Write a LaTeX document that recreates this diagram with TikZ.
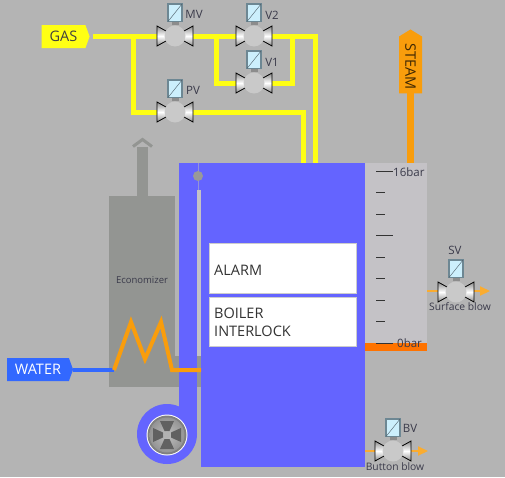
\documentclass[tikz,border=0pt]{standalone}
\usepackage{fontspec}
\setmainfont{Open Sans}
\usepackage{xcolor}
\usetikzlibrary{arrows.meta,shapes.symbols}
\definecolor{panelgray}{HTML}{B4B4B4}
\definecolor{ecogray}{HTML}{939592}
\definecolor{boilerblue}{HTML}{6464FF}
\definecolor{waterblue}{HTML}{3268FF}
\definecolor{gasyellow}{HTML}{FFFF14}
\definecolor{steamorange}{HTML}{F99D0C}
\definecolor{scalegray}{HTML}{C4C2C6}
\definecolor{labelink}{HTML}{3A3A4A}
\tikzset{
  tag/.style={signal, signal to=east, signal pointer angle=140, inner sep=0pt, outer sep=0pt,
    minimum height=23pt, font=\fontsize{14.5}{16}\selectfont, text=black!75},
  pipe/.style={line width=5pt, gasyellow, line join=miter},
  tick/.style={black!80, line width=0.7pt},
  tagname/.style={font=\fontsize{11.5}{12}\selectfont, text=labelink, inner sep=0pt},
  boxtext/.style={font=\fontsize{14.5}{18}\selectfont, text=black!80, align=left, inner sep=0pt, anchor=west},
  alarmbox/.style={fill=white, draw=black!20, line width=1pt},
  blowline/.style={line width=2pt, steamorange!85!white, -{Triangle[length=10pt,width=9pt]}},
  valve/.pic={
    \foreach \s in {1,-1}
      \shade[draw=black, line width=0.8pt, top color=black!45, bottom color=black!45, middle color=white]
        (\s*18,-10) -- (\s*18,10) -- (0,0) -- cycle;
    \fill[black!21] (0,0) circle (10.5);
    \fill[black!45] (-3.5,-15) rectangle (3.5,-11);
    \draw[draw=black!45!cyan!50!gray, fill=cyan!20, line width=1.4pt] (-7,-32) rectangle (7,-14.5);
    \draw[black!70!cyan, line width=0.4pt] (-7,-14.5) -- (7,-32);
  }
}
\begin{document}
\begin{tikzpicture}[x=1pt,y=-1pt]
  \useasboundingbox[fill=panelgray] (0,0) rectangle (505,477);
  % Economizer and chimney
  \fill[ecogray] (137,147) rectangle (148,197);
  \draw[ecogray, line width=3pt] (133,146.5) -- (142.5,139.5) -- (152,146.5);
  \fill[ecogray] (109,196) rectangle (175,387);
  \fill[ecogray] (175,356) rectangle (201,387);
  \node[font=\fontsize{9.5}{11}\selectfont, text=labelink, inner sep=0pt] (eco) at (142,280) {Economizer};
  % Boiler
  \fill[scalegray] (197,190) rectangle (201,356);
  \fill[boilerblue] (179,163) rectangle (197,434);
  \fill[boilerblue] (197,163) rectangle (201,190);
  \fill[boilerblue] (201,163) rectangle (365,467);
  \coordinate (fan) at (167,434);
  \fill[boilerblue] (fan) circle (30);
  \draw[black!25!boilerblue!60!white, line width=1pt] (198.5,163) -- (198.5,190);
  \fill[black!40] (198,176) circle (5);
  % Fan
  \begin{scope}[shift={(fan)}]
    \fill[white] (0,1) circle (20.5);
    \fill[black!50] (0,1) circle (19.5);
    \shade[inner color=black!25, outer color=black!42] (0,1) circle (17.5);
    \foreach \a in {0,90,180,270}
      \fill[black!62, shift={(0,1)}, rotate=\a] (4,-2.5) -- (14,-7) -- (14,7) -- (4,2.5) -- cycle;
    \fill[black!30] (0,1) circle (3.5);
  \end{scope}
  % Scale
  \fill[scalegray] (365,163) rectangle (427,343);
  \fill[orange!90!red] (365,343) rectangle (427,351);
  \foreach \y in {171,235,343}
    \draw[tick] (376,\y) -- (393,\y);
  \foreach \y in {192,214,257,278,300,321}
    \draw[tick] (376,\y) -- (385,\y);
  \node[tagname, anchor=west] (top) at (393,172) {16bar};
  \node[tagname, anchor=west] (low) at (397,343) {0bar};
  % Alarm boxes
  \path[alarmbox] (209,243) rectangle (356,293);
  \path[alarmbox] (209,297) rectangle (356,346);
  \node[boxtext] (alarm) at (214,270) {ALARM};
  \node[boxtext] (interlock) at (214,322) {BOILER\\INTERLOCK};
  % Water and steam
  \node[tag, fill=waterblue, text=white, minimum width=66pt] (water) at (38,369.5) {WATER\hspace{3pt}};
  \coordinate (waterin) at (73,370);
  \coordinate (coilin) at (114,370);
  \draw[line width=4pt, waterblue] (waterin) -- (coilin);
  \draw[line width=4pt, steamorange, line join=miter] (coilin) -- (131,322) -- (145,359) -- (161,322) -- (172,370) -- (201,370);
  \node[tag, fill=steamorange, signal to=west, signal pointer angle=117, rotate=-90, minimum width=64pt, text=black!75!steamorange] (steam) at (410.5,65) {\hspace{3pt}STEAM};
  \draw[line width=7pt, steamorange] (steam.east) -- (410.5,163);
  % Gas lines
  \node[tag, fill=gasyellow, minimum width=48pt] (gas) at (63.5,36.5) {GAS\hspace{3pt}};
  \coordinate (gasin) at (93,36);
  \coordinate (mv) at (175,36);
  \coordinate (vtwo) at (254,36);
  \coordinate (vone) at (254,83);
  \coordinate (pv) at (175,112);
  \coordinate (sv) at (456,292);
  \coordinate (bv) at (393,451);
  \draw[pipe] (gasin) -- (mv) -- (vtwo) -- (315,36) -- (315,163);
  \draw[pipe] (133,36) -- (133,112) -- (pv) -- (303,112) -- (303,163);
  \draw[pipe] (216,36) -- (216,83) -- (vone) -- (292,83) -- (292,36);
  % Blow lines
  \draw[blowline] (427,291) -- (490,291);
  \draw[blowline] (365,451) -- (428,451);
  % Valves
  \foreach \v in {mv,vtwo,vone,pv,sv,bv}
    \pic at (\v) {valve};
  \node[tagname] (mvname) at (194,14) {MV};
  \node[tagname] (vtwoname) at (272,15) {V2};
  \node[tagname] (vonename) at (272,62) {V1};
  \node[tagname] (pvname) at (193,90) {PV};
  \node[tagname] (svname) at (455,250) {SV};
  \node[tagname] (bvname) at (410,428) {BV};
  \node[tagname, font=\fontsize{10.3}{12}\selectfont] (surface) at (460,307) {Surface blow};
  \node[tagname, font=\fontsize{10.3}{12}\selectfont] (button) at (395,467) {Button blow};
\end{tikzpicture}
\end{document}
